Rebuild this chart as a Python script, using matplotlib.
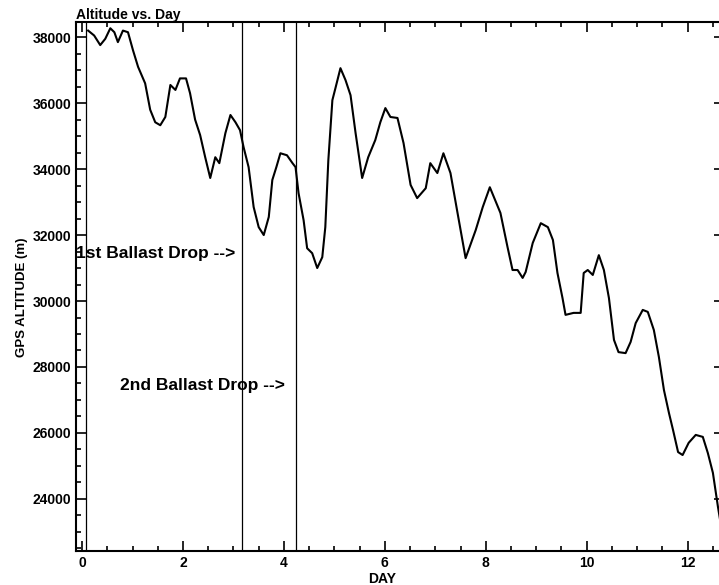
import numpy as np
import matplotlib.pyplot as plt
from matplotlib.ticker import MultipleLocator

plt.rcParams['font.family'] = ['Liberation Sans', 'DejaVu Sans']

# traced flight track: day, GPS altitude (m)
day = [0.12, 0.24, 0.36, 0.46, 0.56, 0.64, 0.71, 0.81, 0.91, 1.01, 1.11, 1.25,
       1.35, 1.45, 1.55, 1.65, 1.75, 1.85, 1.94, 2.06, 2.14, 2.24, 2.34, 2.44,
       2.54, 2.64, 2.72, 2.84, 2.94, 3.04, 3.13, 3.2, 3.3, 3.4, 3.5, 3.6,
       3.7, 3.77, 3.85, 3.93, 4.06, 4.17, 4.23, 4.29, 4.39, 4.46, 4.56, 4.66,
       4.76, 4.82, 4.88, 4.96, 5.02, 5.12, 5.22, 5.32, 5.42, 5.55, 5.67, 5.81,
       5.91, 6.01, 6.11, 6.25, 6.37, 6.51, 6.64, 6.81, 6.9, 7.04, 7.16, 7.3,
       7.44, 7.6, 7.8, 7.94, 8.08, 8.29, 8.43, 8.53, 8.63, 8.73, 8.79, 8.93,
       9.09, 9.23, 9.33, 9.42, 9.52, 9.58, 9.74, 9.88, 9.94, 10.02, 10.12, 10.24,
       10.34, 10.44, 10.54, 10.63, 10.77, 10.87, 10.97, 11.11, 11.21, 11.33, 11.43, 11.53,
       11.63, 11.71, 11.81, 11.9, 12.02, 12.16, 12.3, 12.4, 12.5, 12.6, 12.66]
alt = [38200, 38050, 37760, 37950, 38270, 38150, 37850, 38200, 38150, 37600, 37100, 36600,
       35800, 35420, 35330, 35580, 36550, 36400, 36750, 36750, 36300, 35500, 35030, 34360,
       33730, 34360, 34180, 35090, 35640, 35420, 35180, 34670, 34060, 32850, 32240, 32000,
       32550, 33670, 34060, 34480, 34420, 34180, 34060, 33270, 32450, 31600, 31450, 31000,
       31330, 32240, 34270, 36090, 36450, 37060, 36700, 36240, 35090, 33730, 34360, 34880,
       35420, 35850, 35580, 35550, 34790, 33520, 33120, 33420, 34180, 33880, 34480, 33880,
       32670, 31300, 32150, 32850, 33450, 32670, 31640, 30940, 30940, 30700, 30880, 31760,
       32360, 32240, 31850, 30850, 30090, 29580, 29640, 29640, 30850, 30940, 30790, 31390,
       30940, 30090, 28820, 28450, 28420, 28760, 29330, 29730, 29670, 29120, 28300, 27300,
       26600, 26090, 25420, 25330, 25700, 25940, 25880, 25390, 24790, 23760, 23200]

markers = [0.08, 3.17, 4.23]   # launch and ballast drops

fig = plt.figure(figsize=(7.19, 5.85), dpi=100)
ax = fig.add_axes([76 / 719, 34 / 585, 648 / 719, 529 / 585])

ax.plot(day, alt, color='black', lw=1.5)
for m in markers:
    ax.axvline(m, color='black', lw=0.9)

ax.set_xlim(-0.12, 12.72)
ax.set_ylim(22420, 38460)

ax.xaxis.set_major_locator(MultipleLocator(2))
ax.xaxis.set_minor_locator(MultipleLocator(0.5))
ax.yaxis.set_major_locator(MultipleLocator(2000))
ax.yaxis.set_minor_locator(MultipleLocator(500))
ax.tick_params(which='both', direction='in', top=True, right=True, width=1.2)
ax.tick_params(which='major', length=7, labelsize=10)
ax.tick_params(which='minor', length=3.5)
for lab in ax.get_xticklabels() + ax.get_yticklabels():
    lab.set_fontweight('bold')
for s in ax.spines.values():
    s.set_linewidth(1.5)

ax.set_xlabel('DAY', fontsize=10, fontweight='bold')
ax.xaxis.set_label_coords(0.472, -0.039)
ax.xaxis.label.set_va('top')
ax.set_ylabel('GPS ALTITUDE (m)', fontsize=9.5, fontweight='bold')
ax.yaxis.set_label_coords(-0.074, 0.48)
ax.set_title('Altitude vs. Day', fontsize=10, fontweight='bold', loc='left', pad=2)

ax.text(-0.12, 31450, '1st Ballast Drop -->', fontsize=12.5, fontweight='bold',
        va='center', ha='left')
ax.text(0.75, 27450, '2nd Ballast Drop -->', fontsize=12.5, fontweight='bold',
        va='center', ha='left')

fig.savefig('out.png', dpi=100)
